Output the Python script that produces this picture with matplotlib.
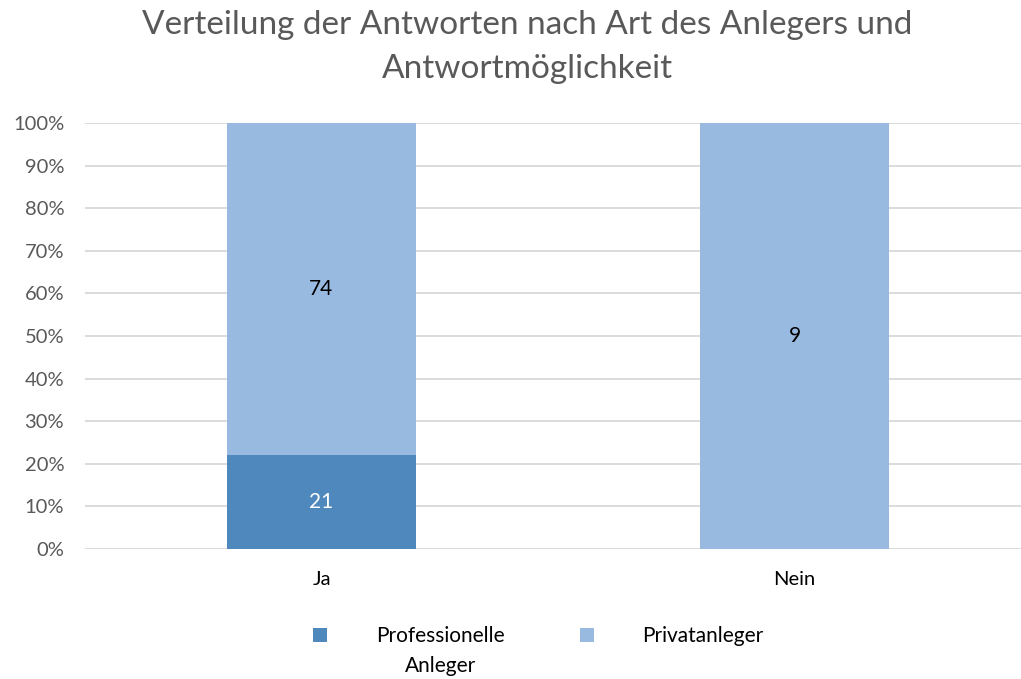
import matplotlib
matplotlib.use("Agg")
import matplotlib.pyplot as plt
import numpy as np

categories = ["Ja", "Nein"]
series_names = ["Professionelle", "Privatanleger"]
series_second_line = ["Anleger", ""]
professionelle = [21, 0]
privat = [74, 9]
colors = ["#4F88BC", "#98B9E0"]
label_colors = ["white", "black"]
yticks = [0, 10, 20, 30, 40, 50, 60, 70, 80, 90, 100]

plt.rcParams['font.family'] = ['Lato', 'DejaVu Sans']

fig = plt.figure(figsize=(10.21, 6.79), dpi=100)
ax = fig.add_axes([85/1021, 1 - 549/679, 946/1021, 426/679])

prof = np.array(professionelle, float)
priv = np.array(privat, float)
tot = prof + priv
p_pct = prof / tot * 100
v_pct = priv / tot * 100
x = np.arange(len(categories))
w = 0.4

b1 = ax.bar(x, p_pct, w, color=colors[0], label=series_names[0], zorder=3)
b2 = ax.bar(x, v_pct, w, bottom=p_pct, color=colors[1], label=series_names[1], zorder=3)

for i in range(len(categories)):
    if prof[i] > 0:
        ax.text(x[i], p_pct[i] / 2, f"{int(prof[i])}", ha="center", va="center",
                color=label_colors[0], fontsize=15, zorder=4)
    if priv[i] > 0:
        ax.text(x[i], p_pct[i] + v_pct[i] / 2, f"{int(priv[i])}", ha="center", va="center",
                color=label_colors[1], fontsize=15, zorder=4)

ax.set_xlim(-0.5, 1.5)
ax.set_ylim(0, 100)
ax.set_yticks(yticks)
ax.set_yticklabels([f"{t}%" for t in yticks])
ax.set_xticks(x)
ax.set_xticklabels(categories)
ax.tick_params(axis="both", length=0, labelsize=14.5, colors="#595959")
ax.tick_params(axis="y", pad=15)
ax.tick_params(axis="x", pad=16, labelcolor="black")
for s in ax.spines.values():
    s.set_visible(False)
ax.yaxis.grid(True, color="#D9D9D9", linewidth=1.3, zorder=0)
ax.set_axisbelow(True)

fig.text(527/1021, 1 - 47/679,
         "Verteilung der Antworten nach Art des Anlegers und\nAntwortmöglichkeit",
         ha="center", va="center", fontsize=24, color="#595959", linespacing=1.55)

leg = fig.legend(handles=[b1, b2], labels=series_names, loc="center left",
                 bbox_to_anchor=(313/1021, 1 - 636/679), ncol=2, frameon=False,
                 fontsize=15, handlelength=0.67, handleheight=0.67,
                 handletextpad=2.35, columnspacing=3.6, borderpad=0, borderaxespad=0)

fig.canvas.draw()
inv = fig.transFigure.inverted()
for t, extra in zip(leg.get_texts(), series_second_line):
    if extra:
        bb = t.get_window_extent()
        cx = (bb.x0 + bb.x1) / 2
        cy = (bb.y0 + bb.y1) / 2 - 30
        fx, fy = inv.transform((cx, cy))
        fig.text(fx, fy, extra, ha="center", va="center", fontsize=15, color="black")

fig.savefig("out.png", dpi=100)
